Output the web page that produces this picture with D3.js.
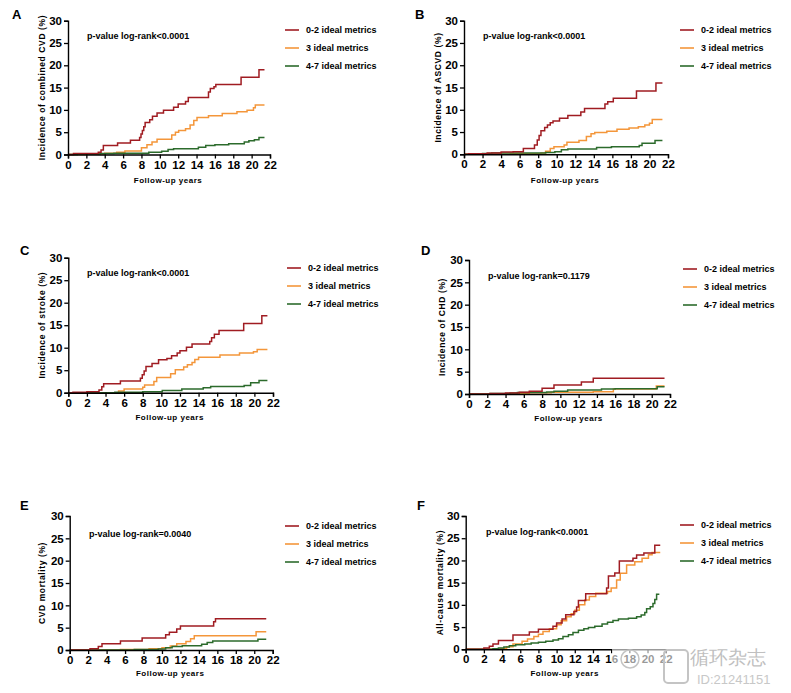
<!DOCTYPE html>
<html><head><meta charset="utf-8">
<script src="https://cdn.jsdelivr.net/npm/d3@7/dist/d3.min.js"></script>
<style>body{margin:0;background:#fff}svg{display:block}text{font-family:"Liberation Sans",Arial,sans-serif}</style>
</head><body><svg id="c" width="791" height="693"></svg>
<script>
// ---------- data ----------
const seriesNames = ["0-2 ideal metrics", "3 ideal metrics", "4-7 ideal metrics"];
const xTicks = [0,2,4,6,8,10,12,14,16,18,20,22];
const yTicks = [0,5,10,15,20,25,30];
const panelLetters = ["A","B","C","D","E","F"];
const yTitles = ["Incidence of combined CVD (%)","Incidence of ASCVD (%)","Incidence of stroke (%)","Incidence of CHD (%)","CVD mortality (%)","All-cause mortality (%)"];
const pValues = ["p-value log-rank<0.0001","p-value log-rank<0.0001","p-value log-rank<0.0001","p-value log-rank=0.1179","p-value log-rank=0.0040","p-value log-rank<0.0001"];

// A: combined CVD
const cvdLow = [[0,0],[0.6,0.2],[3.3,0.5],[3.6,1.0],[3.85,2.0],[5.4,2.6],[6.8,3.2],[7.8,3.8],[7.95,4.6],[8.1,5.4],[8.25,6.2],[8.4,7.2],[8.9,7.8],[9.2,8.6],[9.7,9.3],[10.4,9.9],[11.5,10.6],[12.0,11.3],[12.8,11.9],[13.1,12.8],[15.3,14.0],[15.5,14.8],[15.9,15.2],[16.1,15.7],[18.85,17.3],[20.8,19.0],[21.4,19.0]];
const cvdMid = [[0,0],[2.0,0.1],[4.0,0.3],[5.3,0.5],[6.2,0.8],[8.0,1.5],[8.6,2.2],[9.15,2.8],[9.7,3.4],[11.3,4.4],[11.7,5.0],[12.05,5.4],[12.8,5.8],[13.3,6.6],[13.7,7.6],[14.05,8.3],[15.3,8.7],[16.8,9.2],[18.4,9.6],[19.5,9.9],[20.2,10.5],[20.4,11.1],[21.4,11.1]];
const cvdHigh = [[0,0],[1.0,0.1],[3.5,0.2],[5.0,0.3],[8.8,0.5],[10.2,0.75],[10.9,1.1],[11.5,1.3],[14.2,1.6],[15.0,2.0],[16.0,2.2],[17.5,2.4],[19.2,2.8],[19.7,3.1],[20.3,3.3],[20.8,3.8],[21.4,3.8]];
// B: ASCVD
const ascvdLow = [[0,0],[0.5,0.1],[2.5,0.3],[4.0,0.5],[5.3,0.6],[6.4,1.3],[7.6,2.1],[7.9,3.2],[8.1,4.2],[8.3,5.3],[8.7,6.0],[9.0,6.6],[9.3,7.1],[9.6,7.5],[10.3,8.1],[11.2,8.7],[12.6,9.5],[13.0,10.3],[15.2,11.3],[15.5,11.8],[16.1,12.6],[18.6,14.2],[20.7,16.0],[21.4,16.0]];
const ascvdMid = [[0,0],[5.0,0.1],[8.3,0.3],[8.8,0.7],[9.3,1.3],[9.7,1.7],[10.8,2.1],[11.1,2.7],[12.4,3.1],[13.2,4.0],[13.7,4.6],[14.1,4.9],[15.4,5.2],[16.5,5.6],[17.8,5.9],[18.8,6.2],[19.5,6.6],[20.0,7.0],[20.3,7.8],[21.4,7.8]];
const ascvdHigh = [[0,0],[0.5,0.1],[2.0,0.2],[3.0,0.3],[8.8,0.4],[9.8,0.6],[10.5,1.0],[11.2,1.2],[14.3,1.5],[15.9,1.7],[18.9,2.0],[19.2,2.5],[20.6,3.1],[21.4,3.1]];
// C: stroke
const strokeLow = [[0,0],[0.5,0.1],[2.0,0.2],[3.3,0.6],[3.6,1.3],[3.8,2.0],[5.6,2.6],[7.75,3.2],[7.95,4.0],[8.15,4.8],[8.35,5.8],[9.0,6.5],[9.7,7.3],[10.6,7.6],[11.1,8.2],[11.7,8.8],[12.0,9.3],[12.7,10.1],[13.3,10.8],[15.2,11.4],[15.4,12.2],[15.7,13.0],[16.2,13.8],[18.85,15.4],[20.8,17.1],[21.4,17.1]];
const strokeMid = [[0,0],[5.4,0.4],[6.0,0.8],[8.0,1.2],[8.2,1.7],[9.2,2.5],[9.5,3.4],[11.0,4.2],[11.5,5.1],[12.4,5.7],[12.8,6.2],[13.3,6.7],[13.6,7.4],[14.0,7.9],[16.3,8.4],[18.4,8.8],[19.9,9.1],[20.3,9.6],[21.4,9.6]];
const strokeHigh = [[0,0],[5.0,0.1],[8.0,0.2],[10.1,0.5],[12.2,0.8],[14.5,1.1],[15.3,1.4],[18.9,1.6],[19.6,2.2],[20.5,2.7],[21.4,2.7]];
// D: CHD
const chdLow = [[0,0],[2.3,0.1],[4.0,0.2],[5.5,0.4],[6.6,0.6],[8.0,1.3],[9.3,2.0],[12.3,2.7],[13.6,3.5],[21.4,3.5]];
const chdMid = [[0,0],[5.5,0.1],[6.6,0.3],[9.0,0.4],[13.6,0.5],[15.8,1.1],[20.5,1.8],[21.4,1.8]];
const chdHigh = [[0,0],[2.3,0.1],[4.5,0.2],[5.3,0.35],[8.5,0.45],[9.3,0.6],[10.8,0.9],[14.5,1.1],[16.0,1.2],[20.6,1.6],[21.4,1.6]];
// E: CVD mortality
const cvdMortLow = [[0,0],[2.2,0.3],[3.1,0.8],[3.5,1.4],[5.5,2.0],[7.85,2.7],[10.4,3.4],[10.8,4.0],[11.6,4.7],[12.0,5.4],[15.6,6.3],[15.8,7.0],[21.3,7.0]];
const cvdMortMid = [[0,0],[5.5,0.1],[8.6,0.3],[10.0,0.5],[10.9,0.9],[11.6,1.4],[12.6,1.9],[13.1,2.5],[13.5,3.2],[20.2,4.1],[21.3,4.1]];
const cvdMortHigh = [[0,0],[7.0,0.1],[9.6,0.2],[10.4,0.5],[11.1,0.8],[12.2,0.95],[14.3,1.3],[14.9,1.7],[15.5,2.0],[20.4,2.4],[21.3,2.4]];
// F: all-cause mortality
const allMortLow = [[0,0],[2.0,0.3],[2.6,0.7],[3.0,1.2],[3.6,2.0],[5.2,3.2],[7.0,3.9],[8.0,4.5],[9.6,5.2],[10.0,5.9],[10.6,6.8],[11.0,7.8],[11.9,8.5],[12.2,9.5],[12.4,11.0],[13.2,12.5],[15.5,13.8],[15.7,16.5],[16.4,17.2],[16.9,19.9],[18.4,20.5],[18.8,21.2],[19.6,21.7],[20.8,23.4],[21.4,23.4]];
const allMortMid = [[0,0],[3.8,0.2],[4.5,0.6],[5.2,1.2],[6.2,1.8],[6.8,2.3],[7.5,2.9],[8.0,3.4],[8.5,4.0],[9.2,4.6],[10.0,5.5],[10.5,6.4],[11.1,7.3],[11.6,8.0],[12.0,8.8],[12.5,10.0],[13.1,11.1],[13.6,11.9],[14.3,12.6],[15.6,13.0],[16.0,13.8],[16.6,15.6],[17.0,17.1],[17.7,19.0],[18.6,19.7],[19.4,20.5],[20.1,21.3],[20.5,21.8],[21.4,21.8]];
const allMortHigh = [[0,0],[3.0,0.1],[3.6,0.3],[4.2,0.5],[4.8,0.8],[5.5,1.0],[6.5,1.2],[7.2,1.4],[8.0,1.6],[8.8,1.8],[9.6,2.1],[10.2,2.4],[10.7,2.9],[11.3,3.3],[11.8,3.8],[12.4,4.3],[13.0,4.6],[13.5,4.9],[14.2,5.2],[15.0,5.7],[15.6,6.1],[16.2,6.5],[16.8,6.8],[17.9,7.0],[18.8,7.3],[19.3,7.7],[19.7,8.3],[19.9,9.1],[20.3,9.6],[20.6,10.3],[20.8,11.2],[21.0,12.4],[21.3,12.4]];

const panelSeries = [
  [cvdLow, cvdMid, cvdHigh],
  [ascvdLow, ascvdMid, ascvdHigh],
  [strokeLow, strokeMid, strokeHigh],
  [chdLow, chdMid, chdHigh],
  [cvdMortLow, cvdMortMid, cvdMortHigh],
  [allMortLow, allMortMid, allMortHigh]
];

// ---------- layout / style ----------
const colors = ["#A01C22", "#F4963A", "#2C6B2C"];
const layout = [
  {x0:68,  x1:270, yT:20.7, yB:154.5, lx:12,  ly:19,  pvx:87,  pvy:39,  legx:285, legy:30,  ytx:45,  xty:183},
  {x0:464, x1:668, yT:20.7, yB:154.3, lx:415, ly:19,  pvx:483, pvy:39,  legx:680, legy:30,  ytx:441, xty:183},
  {x0:68.3,x1:273, yT:257.7,yB:392.7, lx:20,  ly:255, pvx:87,  pvy:276, legx:287, legy:268, ytx:45,  xty:420},
  {x0:469, x1:670, yT:260,  yB:394,   lx:421, ly:255, pvx:488, pvy:279, legx:683, legy:269, ytx:445, xty:421},
  {x0:69.7,x1:272.7,yT:516, yB:650,   lx:20,  ly:510, pvx:89,  pvy:537, legx:285, legy:526, ytx:45,  xty:676},
  {x0:465.7,x1:665.7,yT:516,yB:649.3, lx:417, ly:510, pvx:486, pvy:535, legx:680, legy:525, ytx:443, xty:676}
];

const svg = d3.select("#c");
svg.append("rect").attr("width",791).attr("height",693).attr("fill","#fff");

layout.forEach((L, i) => {
  const x = d3.scaleLinear().domain([0,22]).range([L.x0, L.x1]);
  const y = d3.scaleLinear().domain([0,30]).range([L.yB, L.yT]);
  const g = svg.append("g");

  const line = d3.line().x(d => x(d[0])).y(d => y(d[1])).curve(d3.curveStepAfter);
  [1,2,0].forEach(k => {
    g.append("path").datum(panelSeries[i][k]).attr("d", line)
      .attr("fill","none").attr("stroke", colors[k]).attr("stroke-width",1.5)
      .attr("stroke-linejoin","miter");
  });

  const xa = g.append("g").attr("transform",`translate(0,${L.yB})`)
    .call(d3.axisBottom(x).tickValues(xTicks).tickSize(4).tickPadding(2).tickFormat(d3.format("d")));
  const ya = g.append("g").attr("transform",`translate(${L.x0},0)`)
    .call(d3.axisLeft(y).tickValues(yTicks).tickSize(4).tickPadding(2).tickFormat(d3.format("d")));
  [xa, ya].forEach(a => {
    a.select(".domain").attr("stroke","#000").attr("stroke-width",1.4);
    a.selectAll(".tick line").attr("stroke","#000").attr("stroke-width",1.3);
    a.selectAll(".tick text").attr("fill","#000").attr("font-size",11.5).attr("font-weight","bold")
      .attr("font-family","'Liberation Sans',Arial,sans-serif");
  });

  g.append("text").attr("x",(L.x0+L.x1)/2 - 1).attr("y",L.xty).attr("text-anchor","middle")
    .attr("font-size",8).attr("font-weight","bold").attr("letter-spacing",0.5).text("Follow-up years");
  g.append("text").attr("transform",`translate(${L.ytx},${(L.yT+L.yB)/2}) rotate(-90)`)
    .attr("text-anchor","middle").attr("font-size",8.5).attr("font-weight","bold").attr("letter-spacing",0.6)
    .text(yTitles[i]);

  g.append("text").attr("x",L.lx).attr("y",L.ly).attr("font-size",13).attr("font-weight","bold").text(panelLetters[i]);

  g.append("text").attr("x",L.pvx).attr("y",L.pvy).attr("font-size",9).attr("font-weight","bold").text(pValues[i]);

  seriesNames.forEach((n, k) => {
    const yy = L.legy + k*18;
    g.append("line").attr("x1",L.legx).attr("x2",L.legx+14).attr("y1",yy).attr("y2",yy)
      .attr("stroke",colors[k]).attr("stroke-width",1.6);
    g.append("text").attr("x",L.legx+21).attr("y",yy+3).attr("font-size",9).attr("font-weight","bold").text(n);
  });
});

// watermark (bottom right)
const wm = svg.append("g");
wm.append("rect").attr("x",612).attr("y",645).attr("width",175).attr("height",40).attr("fill","#fff").attr("opacity",0.6);
wm.append("circle").attr("cx",630).attr("cy",659).attr("r",9).attr("fill","none").attr("stroke","#c4c4c4").attr("stroke-width",1.5);
wm.append("rect").attr("x",664).attr("y",650).attr("width",24).attr("height",33).attr("rx",4).attr("fill","none").attr("stroke","#c4c4c4").attr("stroke-width",2);
wm.append("text").attr("x",690).attr("y",664).attr("font-size",19).attr("fill","#c0c0c0")
  .attr("font-family","'Noto Sans CJK SC',sans-serif").text("循环杂志");
wm.append("text").attr("x",697).attr("y",684).attr("font-size",13).attr("fill","#c8c8c8")
  .attr("font-family","'Noto Sans',sans-serif").text("ID:21241151");
</script></body></html>
